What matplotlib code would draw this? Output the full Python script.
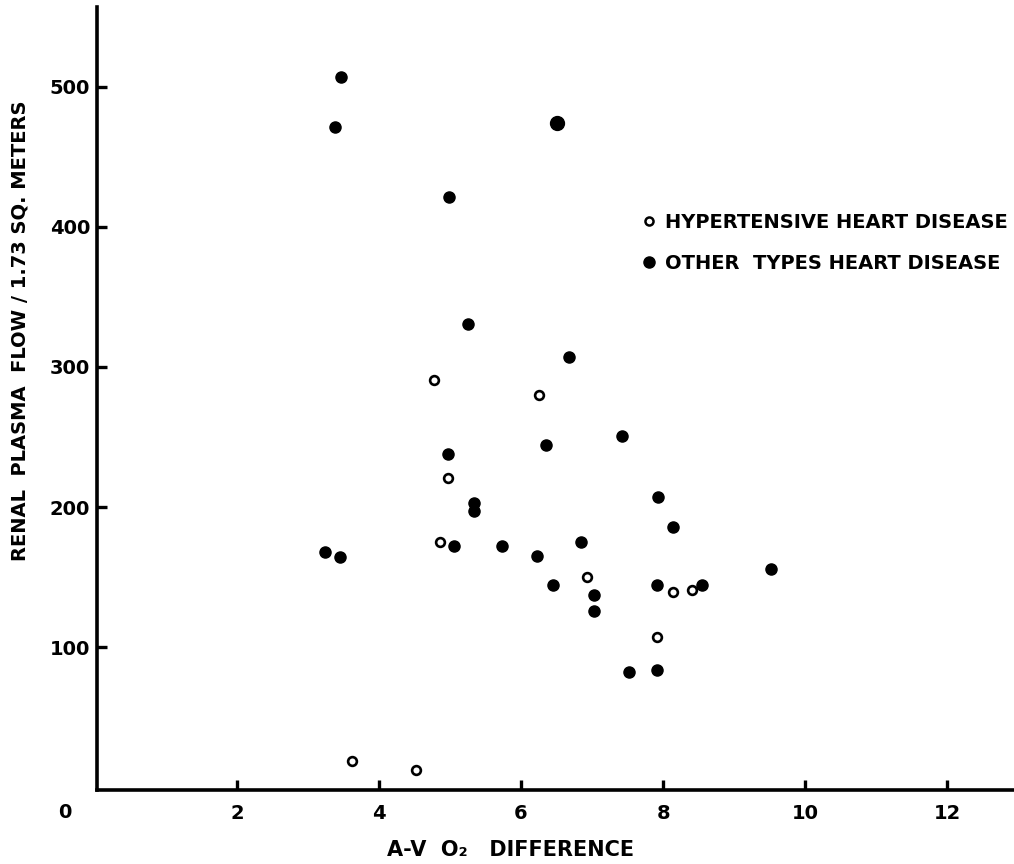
import numpy
from matplotlib import pyplot as plt
from matplotlib.lines import Line2D

# hypertensive heart disease (open circles)
hyper_x = [4.77, 6.25, 4.97, 4.86, 6.93, 8.14, 8.41, 7.92, 3.62, 4.52]
hyper_y = [291, 280, 221, 175, 150, 139, 141, 107, 19, 12]

# other types of heart disease (filled dots)
other_x = [3.47, 3.38, 4.99, 5.26, 6.67, 7.42, 6.35, 4.97, 5.34, 5.34, 7.93, 8.14,
           3.24, 3.45, 5.05, 5.73, 6.85, 6.23, 6.45, 7.03, 7.03, 7.92, 8.55, 9.52,
           7.52, 7.92]
other_y = [507, 471, 421, 331, 307, 251, 244, 238, 203, 197, 207, 186,
           168, 164, 172, 172, 175, 165, 144, 137, 126, 144, 144, 156,
           82, 84]
# one dot drawn larger in the original
big_x = [6.50]
big_y = [474]

x_ticks = [2, 4, 6, 8, 10, 12]
y_ticks = [100, 200, 300, 400, 500]

legend_labels = ["HYPERTENSIVE HEART DISEASE", "OTHER  TYPES HEART DISEASE"]

font_tick = {'size': 14, 'weight': 'bold', 'family': 'DejaVu Sans'}
font_label = {'size': 15, 'weight': 'bold', 'family': 'DejaVu Sans'}

fig = plt.figure(figsize=(10.14, 8.64), dpi=100)
ax = fig.add_axes([97/1014, 74/864, 1 - 97/1014, (790-7)/864])

ax.plot(other_x, other_y, 'o', color='black', markersize=8, linestyle='none')
ax.plot(big_x, big_y, 'o', color='black', markersize=10, linestyle='none')
ax.plot(hyper_x, hyper_y, 'o', markerfacecolor='white', markeredgecolor='black',
        markersize=6.3, markeredgewidth=1.9, linestyle='none')

ax.set_xlim(0.03, 12.94)
ax.set_ylim(-2, 557)

ax.spines[['right', 'top']].set_visible(False)
for side in ['left', 'bottom']:
	ax.spines[side].set_linewidth(2.6)

ax.set_xticks(x_ticks)
ax.set_yticks(y_ticks)
ax.set_xticklabels([str(t) for t in x_ticks], fontdict=font_tick)
ax.set_yticklabels([str(t) for t in y_ticks], fontdict=font_tick)
ax.tick_params(direction='in', length=7, width=2.4)
ax.tick_params(axis='x', pad=10)
ax.tick_params(axis='y', pad=5)

# origin label sits off the corner
ax.annotate("0", xy=(0, 0), xycoords='axes fraction', xytext=(-32, -22),
            textcoords='offset pixels', ha='center', va='center', fontsize=14,
            fontweight='bold')

ax.set_xlabel("A-V  O\u2082   DIFFERENCE", fontdict=font_label)
ax.set_ylabel("RENAL  PLASMA  FLOW / 1.73 SQ. METERS", fontdict={'size': 14, 'weight': 'bold'})
# labels are not centred on the axes in the original
ax.xaxis.set_label_coords(0.451, -0.064)
ax.yaxis.set_label_coords(-0.074, 0.587)

handles = [
	Line2D([], [], marker='o', linestyle='none', markerfacecolor='white',
	       markeredgecolor='black', markersize=5.8, markeredgewidth=1.8),
	Line2D([], [], marker='o', linestyle='none', color='black', markersize=8),
]
leg = ax.legend(handles, legend_labels, loc='upper left', frameon=False,
                bbox_to_anchor=(635/1014, (864-205)/864), bbox_transform=fig.transFigure,
                prop={'size': 14, 'weight': 'bold'}, handlelength=0.6,
                handletextpad=0.55, labelspacing=1.15, borderaxespad=0)

fig.savefig("out.png", dpi=100)
